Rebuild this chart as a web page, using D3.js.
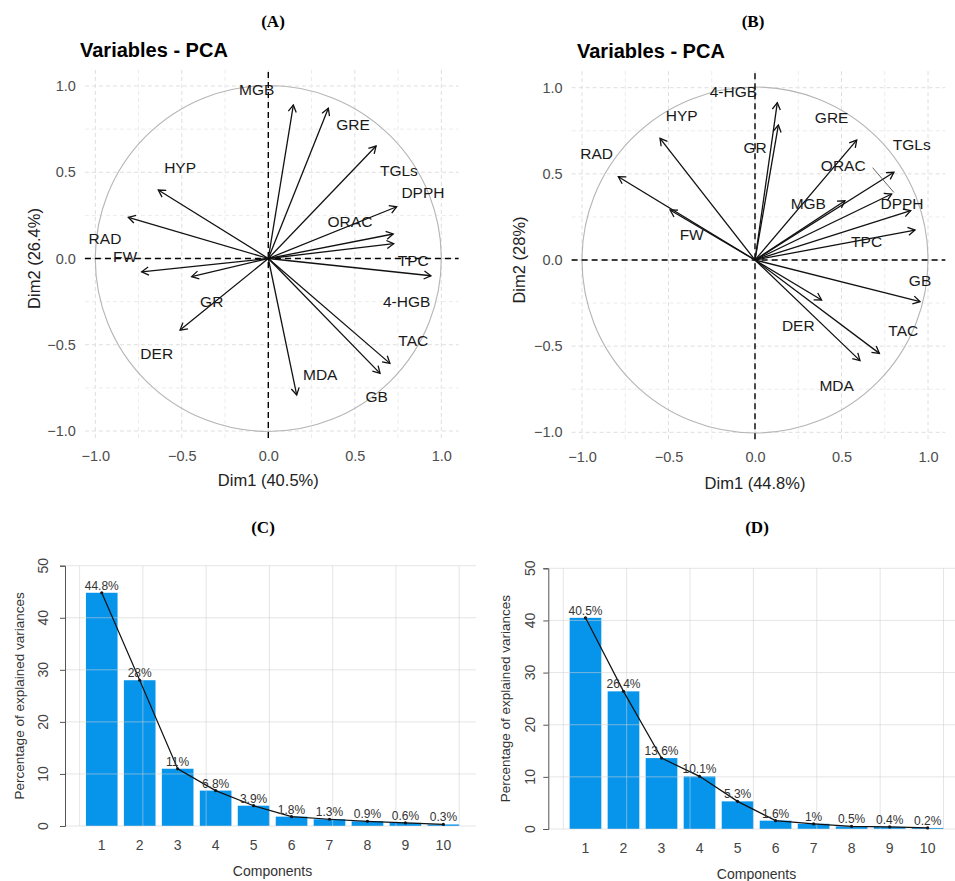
<!DOCTYPE html>
<html><head><meta charset="utf-8">
<script src="https://cdn.jsdelivr.net/npm/d3@7"></script>
<style>body{margin:0;background:#fff} svg{display:block}</style>
</head><body>
<svg id="c" width="955" height="881"></svg>
<script>
// ---------- DATA ----------
const varsA  = ["MGB","GRE","TGLs","DPPH","ORAC","TPC","4-HGB","TAC","GB","MDA","DER","GR","FW","RAD","HYP"];
const dim1A  = [0.145,0.347,0.623,0.742,0.722,0.725,0.940,0.703,0.646,0.164,-0.510,-0.443,-0.732,-0.809,-0.636];
const dim2A  = [0.890,0.871,0.652,0.300,0.142,0.086,-0.100,-0.608,-0.666,-0.791,-0.415,-0.105,-0.077,0.239,0.397];
const labXA  = [-0.067,0.490,0.755,0.894,0.472,0.838,0.800,0.838,0.626,0.300,-0.645,-0.327,-0.828,-0.944,-0.510];
const labYA  = [0.980,0.780,0.510,0.381,0.213,-0.009,-0.250,-0.476,-0.800,-0.670,-0.550,-0.250,0.010,0.117,0.529];

const varsB  = ["4-HGB","GR","HYP","RAD","FW","GRE","TGLs","ORAC","DPPH","MGB","TPC","GB","DER","TAC","MDA"];
const dim1B  = [0.129,0.135,-0.549,-0.790,-0.491,0.588,0.803,0.790,0.900,0.520,0.925,0.954,0.385,0.719,0.607];
const dim2B  = [0.913,0.783,0.706,0.483,0.290,0.696,0.509,0.383,0.286,0.344,0.174,-0.242,-0.232,-0.542,-0.584];
const labXB  = [-0.125,0.000,-0.424,-0.915,-0.366,0.443,0.906,0.510,0.850,0.308,0.645,0.954,0.250,0.857,0.472];
const labYB  = [0.977,0.654,0.840,0.619,0.151,0.828,0.670,0.551,0.329,0.329,0.110,-0.116,-0.377,-0.406,-0.726];
// repel connector (ORAC label -> arrow tip) in panel B, data units
const segB   = [[0.680,0.536],[0.803,0.392]];

const pcaTicks = [-1,-0.5,0,0.5,1];
const pcaMinor = [-0.75,-0.25,0.25,0.75];

const components = [1,2,3,4,5,6,7,8,9,10];
const screeC = [44.8,28,11,6.8,3.9,1.8,1.3,0.9,0.6,0.3];
const screeD = [40.5,26.4,13.6,10.1,5.3,1.6,1,0.5,0.4,0.2];
const screeTicks = [0,10,20,30,40,50];

// ---------- DRAW ----------
const svg = d3.select("#c");
const SANS = "'Liberation Sans', Arial, Helvetica, sans-serif";
const SERIF = "'Liberation Serif', 'Times New Roman', serif";

function drawPCA(cfg, names, d1, d2, lx, ly, seg) {
  const g = svg.append("g");
  const x = d3.scaleLinear().domain([-1,1]).range(cfg.xr);
  const y = d3.scaleLinear().domain([-1,1]).range(cfg.yr);
  const xe = [-1.06, 1.1], ye = [-1.04, 1.1];
  // grid
  const grid = g.append("g").attr("stroke-width",1).attr("stroke-dasharray","4,3");
  pcaTicks.concat(pcaMinor).forEach(v => {
    const c = pcaMinor.includes(v) ? "#ececec" : "#dedede";
    grid.append("line").attr("x1",x(v)).attr("x2",x(v)).attr("y1",y(ye[0])).attr("y2",y(ye[1])).attr("stroke",c);
    grid.append("line").attr("y1",y(v)).attr("y2",y(v)).attr("x1",x(xe[0])).attr("x2",x(xe[1])).attr("stroke",c);
  });
  // circle
  g.append("circle").attr("cx",x(0)).attr("cy",y(0)).attr("r",(x(1)-x(-1))/2)
    .attr("fill","none").attr("stroke","#b5b5b5").attr("stroke-width",1.1);
  // zero lines
  g.append("line").attr("x1",x(xe[0])).attr("x2",x(xe[1])).attr("y1",y(0)).attr("y2",y(0))
    .attr("stroke","#000").attr("stroke-width",1.4).attr("stroke-dasharray","6,4");
  g.append("line").attr("x1",x(0)).attr("x2",x(0)).attr("y1",y(ye[0])).attr("y2",y(ye[1]))
    .attr("stroke","#000").attr("stroke-width",1.4).attr("stroke-dasharray","6,4");
  // axes
  const ax = g.append("g").attr("transform",`translate(0,${y(ye[0])})`)
    .call(d3.axisBottom(x).tickValues(pcaTicks).tickSize(0).tickPadding(cfg.xpad).tickFormat(d3.format(".1f")));
  ax.select(".domain").remove();
  ax.selectAll("text").attr("font-family",SANS).attr("font-size",14.5).attr("fill","#4d4d4d");
  const ay = g.append("g").attr("transform",`translate(${x(xe[0])},0)`)
    .call(d3.axisLeft(y).tickValues(pcaTicks).tickSize(0).tickPadding(cfg.ypad).tickFormat(d3.format(".1f")));
  ay.select(".domain").remove();
  ay.selectAll("text").attr("font-family",SANS).attr("font-size",14.5).attr("fill","#4d4d4d");
  // arrows
  const ar = g.append("g").attr("stroke","#111").attr("stroke-width",1.3).attr("fill","none");
  names.forEach((n,i) => {
    const x0 = x(0), y0 = y(0), x1 = x(d1[i]), y1 = y(d2[i]);
    ar.append("line").attr("x1",x0).attr("y1",y0).attr("x2",x1).attr("y2",y1);
    const th = Math.atan2(y1-y0, x1-x0), L = 8, a = Math.PI/6;
    ar.append("path").attr("d",
      `M${x1-L*Math.cos(th-a)},${y1-L*Math.sin(th-a)}L${x1},${y1}L${x1-L*Math.cos(th+a)},${y1-L*Math.sin(th+a)}`);
  });
  if (seg) {
    g.append("line").attr("x1",x(seg[0][0])).attr("y1",y(seg[0][1])).attr("x2",x(seg[1][0])).attr("y2",y(seg[1][1]))
      .attr("stroke","#555").attr("stroke-width",0.9);
  }
  // labels
  g.append("g").selectAll("text").data(names).join("text")
    .attr("x",(d,i)=>x(lx[i])).attr("y",(d,i)=>y(ly[i])).attr("dy","0.36em")
    .attr("text-anchor","middle").attr("font-family",SANS).attr("font-size",15.5).attr("fill","#1a1a1a")
    .text(d=>d);
  // titles
  g.append("text").attr("x",cfg.titleX).attr("y",cfg.titleY).attr("font-family",SANS).attr("font-weight","bold")
    .attr("font-size",20).attr("fill","#000").text("Variables - PCA");
  g.append("text").attr("x",x(0)).attr("y",cfg.xlabY).attr("text-anchor","middle").attr("font-family",SANS)
    .attr("font-size",16.5).attr("fill","#222").text(cfg.xlab);
  g.append("text").attr("transform",`translate(${cfg.ylabX},${y(0)}) rotate(-90)`).attr("dy","0.36em")
    .attr("text-anchor","middle").attr("font-family",SANS).attr("font-size",16.5).attr("fill","#222").text(cfg.ylab);
  g.append("text").attr("x",cfg.panelX).attr("y",cfg.panelY).attr("text-anchor","middle").attr("font-family",SERIF)
    .attr("font-weight","bold").attr("font-size",17).text(cfg.panel);
}

function drawScree(cfg, vals) {
  const g = svg.append("g");
  const x = d3.scaleLinear().domain([0,12]).range(cfg.xr);
  const y = d3.scaleLinear().domain([0,50]).range(cfg.yr);
  const centers = components.map(c => 0.7 + 1.2*(c-1));
  // bars
  g.append("g").selectAll("rect").data(vals).join("rect")
    .attr("x",(d,i)=>x(centers[i]-0.5)).attr("width",x(1)-x(0))
    .attr("y",d=>y(d)).attr("height",d=>y(0)-y(d)).attr("fill","#0795ec");
  // grid (drawn over bars)
  const grid = g.append("g").attr("stroke","#cfcfcf").attr("stroke-opacity",0.55).attr("stroke-width",1);
  d3.range(0,13,2).forEach(v => grid.append("line").attr("x1",x(v)).attr("x2",x(v)).attr("y1",y(0)).attr("y2",y(50)));
  screeTicks.forEach(v => grid.append("line").attr("x1",cfg.axisX).attr("x2",cfg.right).attr("y1",y(v)).attr("y2",y(v)));
  // line + points
  const pts = vals.map((v,i)=>[x(centers[i]), y(v)]);
  g.append("path").attr("d",d3.line()(pts)).attr("fill","none").attr("stroke","#111").attr("stroke-width",1.2);
  g.append("g").selectAll("circle").data(pts).join("circle").attr("cx",d=>d[0]).attr("cy",d=>d[1]).attr("r",1.6).attr("fill","#111");
  // value labels
  g.append("g").selectAll("text").data(vals).join("text")
    .attr("x",(d,i)=>x(centers[i])).attr("y",d=>y(d)-3).attr("text-anchor","middle")
    .attr("font-family",SANS).attr("font-size",12).attr("fill","#333").text(d=>d+"%");
  // y axis (line + ticks from the axis generator, labels rotated as in base R)
  const ay = g.append("g").attr("transform",`translate(${cfg.axisX},0)`)
    .call(d3.axisLeft(y).tickValues(screeTicks).tickSize(5).tickFormat(""));
  ay.selectAll("path,line").attr("stroke","#555");
  g.append("g").selectAll("text").data(screeTicks).join("text")
    .attr("transform",d=>`translate(${cfg.tickLabX},${y(d)}) rotate(-90)`).attr("dy","0.36em")
    .attr("text-anchor","middle").attr("font-family",SANS).attr("font-size",14).attr("fill","#444").text(d=>d);
  // x labels
  g.append("g").selectAll("text").data(components).join("text")
    .attr("x",(d,i)=>x(centers[i])).attr("y",cfg.xtickY).attr("text-anchor","middle")
    .attr("font-family",SANS).attr("font-size",14).attr("fill","#444").text(d=>d);
  g.append("text").attr("x",(x(centers[0])+x(centers[9]))/2).attr("y",cfg.xlabY).attr("text-anchor","middle")
    .attr("font-family",SANS).attr("font-size",14).attr("fill","#333").text("Components");
  g.append("text").attr("transform",`translate(${cfg.ylabX},${(y(0)+y(50))/2}) rotate(-90)`).attr("dy","0.36em")
    .attr("text-anchor","middle").attr("font-family",SANS).attr("font-size",13.5).attr("fill","#333")
    .text("Percentage of explained variances");
  g.append("text").attr("x",cfg.panelX).attr("y",cfg.panelY).attr("text-anchor","middle").attr("font-family",SERIF)
    .attr("font-weight","bold").attr("font-size",17).text(cfg.panel);
}

drawPCA({xr:[95.3,441.3], yr:[431,86], xpad:13, ypad:9, titleX:80, titleY:57, xlab:"Dim1 (40.5%)", xlabY:486,
         ylab:"Dim2 (26.4%)", ylabX:34, panel:"(A)", panelX:273, panelY:27}, varsA, dim1A, dim2A, labXA, labYA, null);
drawPCA({xr:[582,928], yr:[432.3,87.7], xpad:13, ypad:9, titleX:577, titleY:58, xlab:"Dim1 (44.8%)", xlabY:489,
         ylab:"Dim2 (28%)", ylabX:519, panel:"(B)", panelX:753, panelY:27}, varsB, dim1B, dim2B, labXB, labYB, segB);
drawScree({xr:[79.6,459.2], yr:[826,565.7], axisX:65, right:476, tickLabX:43, xtickY:850, xlabY:876, ylabX:19,
           panel:"(C)", panelX:263, panelY:533}, screeC);
drawScree({xr:[563.3,943.5], yr:[829,568.3], axisX:548.3, right:955, tickLabX:530, xtickY:853, xlabY:879, ylabX:505,
           panel:"(D)", panelX:757, panelY:533}, screeD);
</script>
</body></html>
